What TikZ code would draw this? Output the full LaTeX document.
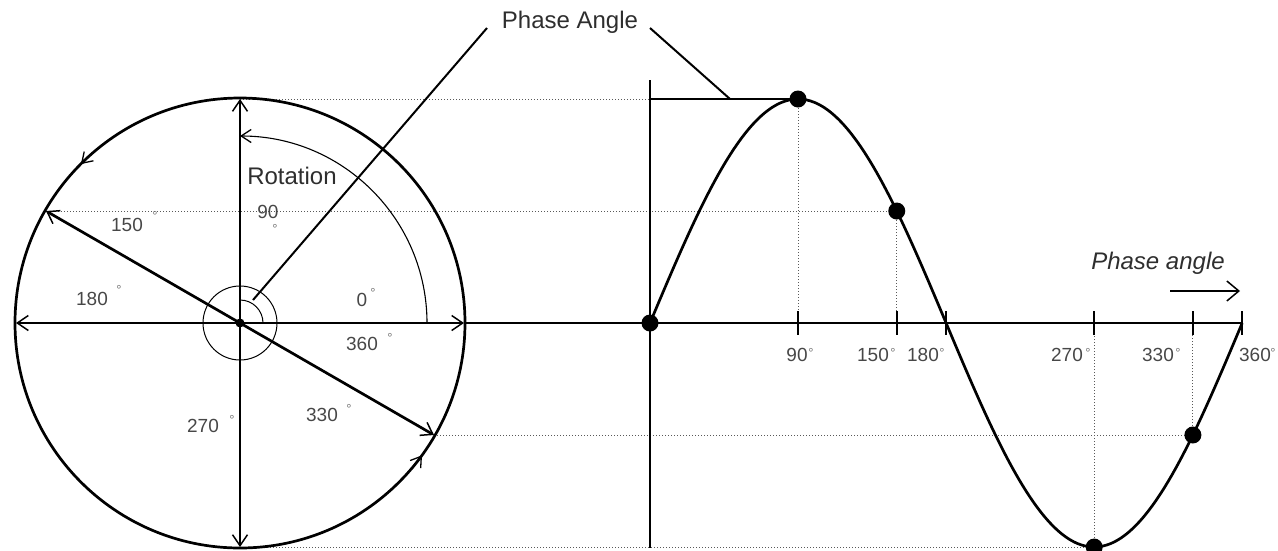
\documentclass[tikz,border=0pt]{standalone}
\usepackage{fontspec}
\setmainfont{Liberation Sans}
\usetikzlibrary{arrows.meta,calc}
\begin{document}
\begin{tikzpicture}[x=1pt,y=-1pt,
  thickline/.style={line width=2.7pt},
  thinline/.style={line width=1.1pt},
  dotline/.style={black!65, line width=1pt, dash pattern=on 1pt off 2pt},
  tip/.style={-{Straight Barb[length=11pt,width=15pt,line width=1.5pt]}},
  smalltip/.style={-{Straight Barb[length=10pt,width=13pt,line width=1.3pt]}},
  widetip/.style={-{Straight Barb[length=12pt,width=20pt,line width=1.5pt]}},
  num/.style={font=\fontsize{19}{22}\selectfont, text=black!72, inner sep=0pt},
  deg/.style={font=\fontsize{13}{15}\selectfont, text=black!55, inner sep=0pt, yshift=-3pt},
  big/.style={font=\fontsize{24}{28}\selectfont, text=black!82, inner sep=0pt},
  dot/.style={circle, fill=black, inner sep=0pt, minimum size=17pt}
]
\useasboundingbox (0,0) rectangle (1278,550);

% key points
\coordinate (O) at (240,323);
\coordinate (Top) at (240,99);
\coordinate (Bot) at (240,547);
\coordinate (L) at (16,323);
\coordinate (R) at (464,323);
\coordinate (A150) at (46,211);
\coordinate (A330) at (434,435);
\coordinate (S0) at (650,323);
\coordinate (S90) at (798,99);
\coordinate (S150) at (896.75,211);
\coordinate (S180) at (946.1,323);
\coordinate (S270) at (1094.2,547);
\coordinate (S330) at (1192.9,435);
\coordinate (S360) at (1242.2,323);
\coordinate (V1) at (650,80);
\coordinate (V2) at (650,548);
\coordinate (H1) at (650,99);
\coordinate (PL1) at (253,300);
\coordinate (PL2) at (487,28);
\coordinate (PR1) at (650,28);
\coordinate (PR2) at (730,99);
\coordinate (PA1) at (1170,291);
\coordinate (PA2) at (1240,291);
\coordinate (RA1) at (92.2,152.8);
\coordinate (RA2) at (80.9,164.1);
\coordinate (RB1) at (412.6,468.2);
\coordinate (RB2) at (422.0,455.3);

% dotted projection lines
\draw[dotline] (Top) -- (S90);
\draw[dotline] (A150) -- (S150);
\draw[dotline] (A330) -- (S330);
\draw[dotline] (Bot) -- (S270);
\draw[dotline] (S90) -- (S90 |- S0);
\draw[dotline] (S150) -- (S150 |- S0);
\draw[dotline] (S270) -- (S270 |- S0);
\draw[dotline] (S330) -- (S330 |- S0);

% circle
\draw[thickline] (O) circle[radius=225pt];
\draw[thickline,tip] (O) -- (Top);
\draw[thickline,tip] (O) -- (Bot);
\draw[thickline,tip] (O) -- (L);
\draw[thickline,tip] (O) -- (R);
\draw[thickline,tip] (O) -- (A150);
\draw[thickline,tip] (O) -- (A330);

% rotation arcs
\draw[thinline,smalltip] ($(O)+(187pt,0pt)$) arc[start angle=0,end angle=90,radius=187pt];
\draw[line width=1.3pt,smalltip] (RA1) -- (RA2);
\draw[line width=1.3pt,smalltip] (RB1) -- (RB2);
\draw[line width=1pt] (O) circle[radius=37pt];
\draw[line width=1pt] ($(O)+(23pt,0pt)$) arc[start angle=0,end angle=90,radius=23pt];
\fill (O) circle[radius=4.5pt];

% phase angle leaders
\draw[line width=2pt] (PL1) -- (PL2);
\draw[line width=2pt] (PR1) -- (PR2);
\draw[line width=2pt] (H1) -- (S90);
\draw[line width=1.5pt] (V1) -- (V2);

% axis and sine
\draw[thickline] (R) -- (S360);
\foreach \t in {90,150,180,270,330,360}
  \draw[line width=2.2pt] ({650+1.645*\t},311) -- ({650+1.645*\t},335);
\draw[thickline] plot[domain=0:360,samples=145,smooth] ({650+1.645*\x},{323-224*sin(\x)});
\draw[line width=1.6pt,widetip] (PA1) -- (PA2);

% dots
\node[dot] (D0) at (S0) {};
\node[dot] (D90) at (S90) {};
\node[dot] (D150) at (S150) {};
\node[dot] (D270) at (S270) {};
\node[dot] (D330) at (S330) {};

% texts
\node[big] (tPA) at (570,22) {Phase Angle};
\node[big] (tRot) at (292,176) {Rotation};
\node[big,font=\fontsize{24}{28}\selectfont\itshape] (tPa) at (1158,263) {Phase angle};

\node[num] (c150) at (127,225) {150};  \node[deg] (c150d) at (155,213) {°};
\node[num] (c90) at (268,212) {90};    \node[deg] (c90d) at (275,226) {°};
\node[num] (c180) at (92,299) {180};   \node[deg] (c180d) at (119,287) {°};
\node[num] (c0) at (362,300) {0};      \node[deg] (c0d) at (373,290) {°};
\node[num] (c360) at (362,344) {360};  \node[deg] (c360d) at (390,335) {°};
\node[num] (c330) at (322,415) {330};  \node[deg] (c330d) at (349,406) {°};
\node[num] (c270) at (203,426) {270};  \node[deg] (c270d) at (232,417) {°};

\node[num] (x90) at (797,355) {90};    \node[deg] (x90d) at (811,350) {°};
\node[num] (x150) at (873,355) {150};  \node[deg] (x150d) at (893,350) {°};
\node[num] (x180) at (923,355) {180};  \node[deg] (x180d) at (942,350) {°};
\node[num] (x270) at (1067,355) {270}; \node[deg] (x270d) at (1088,350) {°};
\node[num] (x330) at (1158,355) {330}; \node[deg] (x330d) at (1178,350) {°};
\node[num] (x360) at (1255,355) {360}; \node[deg] (x360d) at (1273,350) {°};
\end{tikzpicture}
\end{document}
